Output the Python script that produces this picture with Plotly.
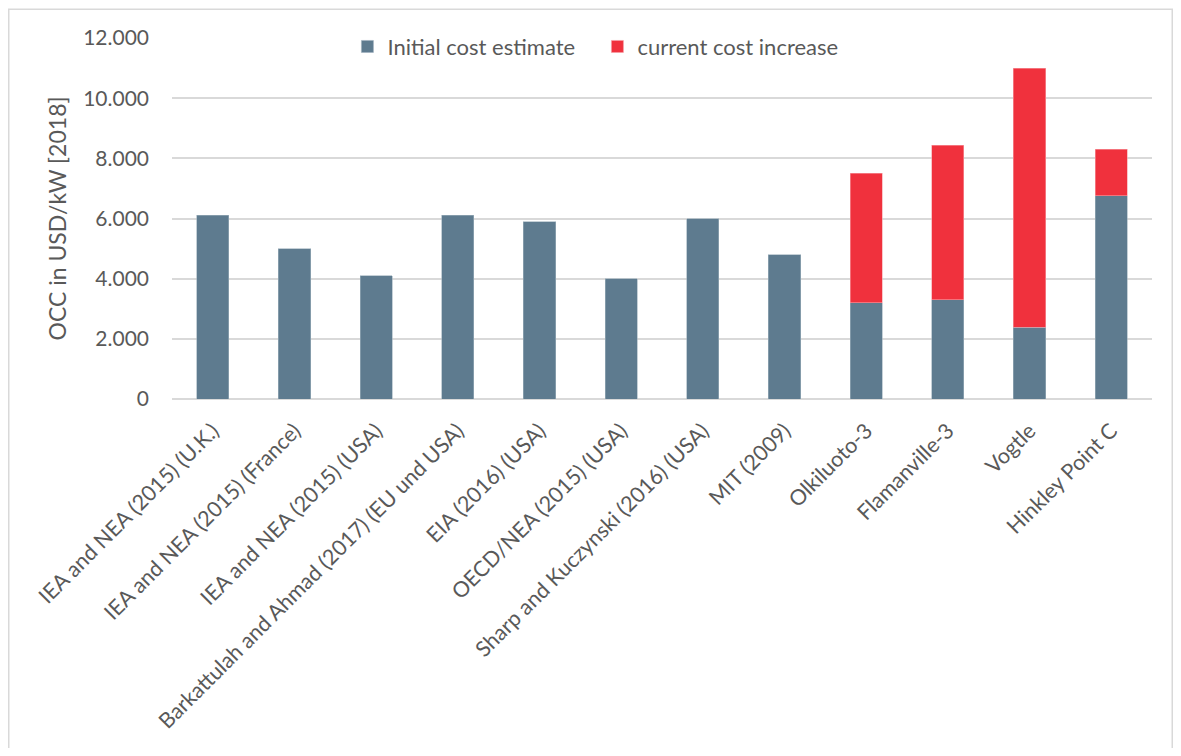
import plotly.graph_objects as go

categories = [
    "IEA and NEA (2015) (U.K.)",
    "IEA and NEA (2015) (France)",
    "IEA and NEA (2015) (USA)",
    "Barkattulah and Ahmad (2017) (EU und USA)",
    "EIA (2016) (USA)",
    "OECD/NEA (2015) (USA)",
    "Sharp and Kuczynski (2016) (USA)",
    "MIT (2009)",
    "Olkiluoto-3",
    "Flamanville-3",
    "Vogtle",
    "Hinkley Point C",
]
initial_cost = [6100, 5000, 4100, 6100, 5900, 4000, 6000, 4800, 3200, 3300, 2380, 6750]
cost_increase = [None, None, None, None, None, None, None, None, 4300, 5130, 8620, 1550]
y_ticks = [0, 2000, 4000, 6000, 8000, 10000, 12000]

BLUE = "#5E7B8F"
RED = "#F0313D"
TEXT = "#595959"
GRID = "#D9D9D9"
FONT = "Lato, 'Open Sans', sans-serif"

fig = go.Figure()
fig.add_trace(go.Bar(
    x=categories, y=initial_cost, name="Initial cost estimate",
    marker=dict(color=BLUE, line=dict(color="#9FB0BD", width=0.6)),
))
fig.add_trace(go.Bar(
    x=categories, y=cost_increase, name="current cost increase",
    marker=dict(color=RED, line=dict(color="#F7A0A6", width=0.6)),
))

W, H = 1165, 740
L, T = 164, 29.5
PW, PH = 980, 361.2

fig.update_layout(
    width=W, height=H,
    barmode="stack", bargap=0.605,
    separators=",.",
    paper_bgcolor="white", plot_bgcolor="white",
    margin=dict(l=L, r=W - L - PW, t=T, b=H - T - PH, autoexpand=False),
    font=dict(family=FONT, color=TEXT, size=20),
    showlegend=True,
    legend=dict(
        orientation="h", x=0.179, xanchor="left", y=0.976, yanchor="middle",
        font=dict(size=22, color=TEXT), bgcolor="rgba(0,0,0,0)",
        entrywidth=205, entrywidthmode="pixels", traceorder="normal",
    ),
    xaxis=dict(
        tickangle=-45, tickfont=dict(size=21.5, color=TEXT),
        showgrid=False, showline=False, ticks="", zeroline=False,
        ticklabelstandoff=14,
    ),
    yaxis=dict(
        range=[0, 12000], tickvals=y_ticks,
        tickformat=",.0f", tickfont=dict(size=21, color=TEXT),
        showgrid=True, gridcolor=GRID, gridwidth=1.5,
        zeroline=True, zerolinecolor=GRID, zerolinewidth=1.5,
        showline=False, ticks="", ticklabelstandoff=22,
        title=dict(text="OCC in USD/kW [2018]", font=dict(size=23, color=TEXT), standoff=10),
    ),
    shapes=[dict(
        type="rect", xref="paper", yref="paper",
        x0=(0.75 - L) / PW, x1=(W - 0.75 - L) / PW,
        y0=-1.2, y1=(T + PH - 0.75) / PH,
        line=dict(color=GRID, width=1.5), fillcolor="rgba(0,0,0,0)", layer="below",
    )],
)

fig.write_html("out.html")
